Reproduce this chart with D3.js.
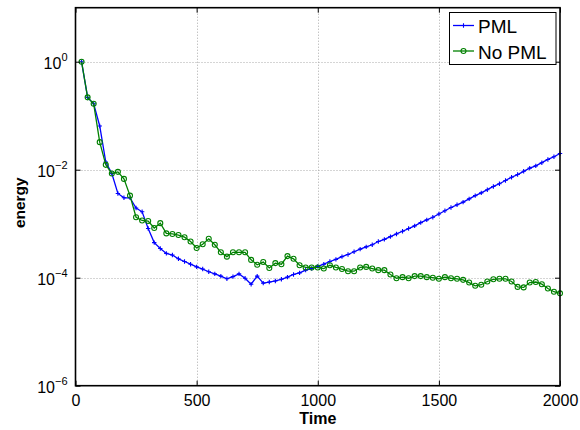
<!DOCTYPE html>
<html>
<head>
<meta charset="utf-8">
<script src="https://cdn.jsdelivr.net/npm/d3@7"></script>
<style>
  html, body { margin: 0; padding: 0; background: #fff; }
  svg { display: block; font-family: "Liberation Sans", Arial, Helvetica, sans-serif; }
</style>
</head>
<body>
<svg id="chart" width="580" height="430"></svg>
<script>
// ---- data (energy given as log10 exponents) ----
const times = [25,50,75,100,125,150,175,200,225,250,275,300,325,350,375,400,425,450,475,500,
  525,550,575,600,625,650,675,700,725,750,775,800,825,850,875,900,925,950,975,1000,
  1025,1050,1075,1100,1125,1150,1175,1200,1225,1250,1275,1300,1325,1350,1375,1400,1425,1450,1475,1500,
  1525,1550,1575,1600,1625,1650,1675,1700,1725,1750,1775,1800,1825,1850,1875,1900,1925,1950,1975,2000];

const pmlLog10 = [0,-0.66,-0.78,-1.19,-1.86,-2.07,-2.44,-2.52,-2.52,-2.71,-2.78,-3.09,-3.35,-3.46,-3.55,-3.58,-3.65,-3.70,-3.75,-3.80,
  -3.84,-3.89,-3.93,-3.97,-4.02,-3.98,-3.93,-4.01,-4.12,-3.97,-4.10,-4.08,-4.06,-4.03,-3.99,-3.94,-3.91,-3.86,-3.83,-3.79,
  -3.75,-3.70,-3.66,-3.61,-3.57,-3.52,-3.47,-3.43,-3.39,-3.33,-3.29,-3.24,-3.19,-3.14,-3.09,-3.04,-2.98,-2.93,-2.88,-2.82,
  -2.76,-2.70,-2.65,-2.60,-2.54,-2.48,-2.43,-2.37,-2.31,-2.26,-2.20,-2.14,-2.09,-2.03,-1.97,-1.93,-1.87,-1.81,-1.76,-1.70];

const noPmlLog10 = [0,-0.66,-0.78,-1.49,-1.91,-2.07,-2.04,-2.17,-2.48,-2.88,-2.94,-2.95,-3.08,-2.99,-3.18,-3.19,-3.21,-3.25,-3.33,-3.45,
  -3.38,-3.28,-3.39,-3.53,-3.61,-3.53,-3.53,-3.53,-3.67,-3.76,-3.71,-3.82,-3.73,-3.75,-3.60,-3.65,-3.77,-3.81,-3.81,-3.81,
  -3.83,-3.77,-3.81,-3.84,-3.88,-3.88,-3.81,-3.80,-3.83,-3.86,-3.86,-3.94,-4.01,-3.99,-4.01,-3.97,-3.97,-3.99,-4.00,-4.02,
  -3.99,-4.01,-4.02,-4.04,-4.09,-4.15,-4.13,-4.07,-4.03,-4.02,-4.02,-4.07,-4.17,-4.18,-4.09,-4.08,-4.12,-4.20,-4.26,-4.29];

const xTicks = [0, 500, 1000, 1500, 2000];
const yTickExponents = [-6, -4, -2, 0];
const seriesNames = ["PML", "No PML"];
const xLabel = "Time";
const yLabel = "energy";

// ---- layout ----
const pLeft = 75.5, pRight = 560, pTop = 7.7, pBottom = 385.7;
const svg = d3.select("#chart");

const x = d3.scaleLinear().domain([0, 2000]).range([pLeft, pRight]);
const y = d3.scaleLog().domain([1e-6, 1e1]).range([pBottom, pTop]);

const pml = times.map((t, i) => ({ t, v: Math.pow(10, pmlLog10[i]) }));
const nopml = times.map((t, i) => ({ t, v: Math.pow(10, noPmlLog10[i]) }));

// grid
const grid = svg.append("g").attr("stroke", "#aaaaaa").attr("stroke-width", 1)
  .attr("stroke-dasharray", "1,2");
grid.selectAll("line.gx").data(xTicks.slice(1, -1)).join("line")
  .attr("x1", d => Math.round(x(d)) + 0.5).attr("x2", d => Math.round(x(d)) + 0.5)
  .attr("y1", pTop).attr("y2", pBottom);
grid.selectAll("line.gy").data(yTickExponents.slice(1)).join("line")
  .attr("y1", d => Math.round(y(Math.pow(10, d))) + 0.5).attr("y2", d => Math.round(y(Math.pow(10, d))) + 0.5)
  .attr("x1", pLeft).attr("x2", pRight);

// series
const line = d3.line().x(d => x(d.t)).y(d => y(d.v));
svg.append("path").datum(pml).attr("fill", "none").attr("stroke", "#0000ff")
  .attr("stroke-width", 1.3).attr("d", line);
svg.append("g").selectAll("path").data(pml).join("path")
  .attr("d", d => `M${x(d.t) - 2.2},${y(d.v)}h4.4M${x(d.t)},${y(d.v) - 2.2}v4.4`)
  .attr("stroke", "#0000ff").attr("stroke-width", 1.1);

svg.append("path").datum(nopml).attr("fill", "none").attr("stroke", "#008000")
  .attr("stroke-width", 1.3).attr("d", line);
svg.append("g").selectAll("circle").data(nopml).join("circle")
  .attr("cx", d => x(d.t)).attr("cy", d => y(d.v)).attr("r", 2.5)
  .attr("fill", "none").attr("stroke", "#008000").attr("stroke-width", 1.1);

// axes (d3 axes, inward ticks, box)
const xAxisB = d3.axisBottom(x).tickValues(xTicks).tickFormat(d3.format("d"))
  .tickSizeInner(-5).tickSizeOuter(0).tickPadding(9);
const gx = svg.append("g").attr("transform", `translate(0,${pBottom})`).call(xAxisB);
gx.select(".domain").remove();
gx.selectAll("text").attr("font-size", 16).attr("fill", "#000")
  .attr("font-family", "Liberation Sans, Arial, sans-serif");

const xAxisT = d3.axisTop(x).tickValues(xTicks).tickSizeInner(-5).tickSizeOuter(0).tickFormat("");
const gxt = svg.append("g").attr("transform", `translate(0,${pTop})`).call(xAxisT);
gxt.select(".domain").remove();

const yAxisL = d3.axisLeft(y).tickValues(yTickExponents.map(e => Math.pow(10, e)))
  .tickSizeInner(-5).tickSizeOuter(0).tickFormat("");
const gy = svg.append("g").attr("transform", `translate(${pLeft},0)`).call(yAxisL);
gy.select(".domain").remove();
gy.selectAll(".tick text").remove();
gy.selectAll(".tick").each(function(d, i) {
  const e = yTickExponents[i];
  const t = d3.select(this).append("text").attr("x", -8).attr("dy", "0.45em")
    .attr("text-anchor", "end").attr("fill", "#000").attr("font-size", 16)
    .attr("font-family", "Liberation Sans, Arial, sans-serif");
  t.append("tspan").text("10");
  t.append("tspan").attr("font-size", 11).attr("dy", "-0.75em").text(e === 0 ? "0" : "\u2212" + Math.abs(e));
});

const yAxisR = d3.axisRight(y).tickValues(yTickExponents.map(e => Math.pow(10, e)))
  .tickSizeInner(-5).tickSizeOuter(0).tickFormat("");
const gyr = svg.append("g").attr("transform", `translate(${pRight},0)`).call(yAxisR);
gyr.select(".domain").remove();

svg.selectAll(".tick line").attr("stroke", "#000").attr("stroke-width", 1);

// frame
svg.append("rect").attr("x", pLeft).attr("y", pTop).attr("width", pRight - pLeft).attr("height", pBottom - pTop)
  .attr("fill", "none").attr("stroke", "#000").attr("stroke-width", 1.6);

// axis labels
svg.append("text").attr("x", (pLeft + pRight) / 2).attr("y", 424).attr("text-anchor", "middle")
  .attr("font-size", 16).attr("font-weight", "bold").text(xLabel);
svg.append("text").attr("transform", `translate(25,${(pTop + pBottom) / 2 + 6}) rotate(-90)`)
  .attr("text-anchor", "middle").attr("font-size", 15.5).attr("font-weight", "bold").text(yLabel);

// legend
const lg = svg.append("g");
lg.append("rect").attr("x", 449.5).attr("y", 12.5).attr("width", 106.5).attr("height", 52)
  .attr("fill", "#fff").attr("stroke", "#000").attr("stroke-width", 1);
const rows = [
  { name: seriesNames[0], color: "#0000ff", mk: "plus", ly: 25.5 },
  { name: seriesNames[1], color: "#008000", mk: "circle", ly: 51 }
];
rows.forEach(r => {
  lg.append("line").attr("x1", 453).attr("x2", 474).attr("y1", r.ly).attr("y2", r.ly)
    .attr("stroke", r.color).attr("stroke-width", 1.3);
  if (r.mk === "plus") {
    lg.append("path").attr("d", `M461.3,${r.ly}h4.4M463.5,${r.ly - 2.2}v4.4`).attr("stroke", r.color).attr("stroke-width", 1.1);
  } else {
    lg.append("circle").attr("cx", 463.5).attr("cy", r.ly).attr("r", 2.5).attr("fill", "none")
      .attr("stroke", r.color).attr("stroke-width", 1.1);
  }
  lg.append("text").attr("x", 478).attr("y", r.ly + 7.5).attr("font-size", 19).attr("fill", "#000").text(r.name);
});
</script>
</body>
</html>
